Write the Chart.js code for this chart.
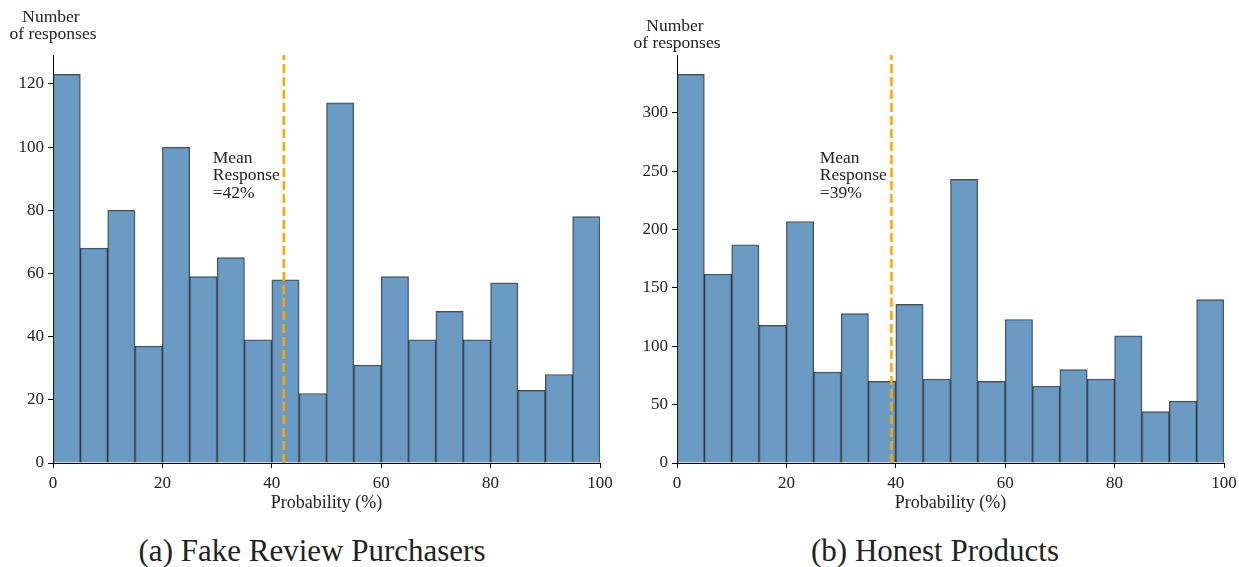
<!DOCTYPE html>
<html>
<head>
<meta charset="utf-8">
<script src="https://cdn.jsdelivr.net/npm/chart.js@4.4.0/dist/chart.umd.min.js"></script>
<style>
  body { margin: 0; background: #fff; width: 1239px; height: 567px; overflow: hidden; position: relative; }
  .box { position: absolute; top: 0; height: 530px; }
  .caption { position: absolute; top: 533px; font-family: "Liberation Serif", serif; font-size: 31px; color: #222; transform: translateX(-50%); white-space: nowrap; }
</style>
</head>
<body>
<div class="box" style="left:0;width:620px"><canvas id="fakeChart"></canvas></div>
<div class="box" style="left:620px;width:640px"><canvas id="honestChart"></canvas></div>
<div class="caption" style="left:312px">(a) Fake Review Purchasers</div>
<div class="caption" style="left:935px">(b) Honest Products</div>
<script>
const binCenters = [2.5, 7.5, 12.5, 17.5, 22.5, 27.5, 32.5, 37.5, 42.5, 47.5,
  52.5, 57.5, 62.5, 67.5, 72.5, 77.5, 82.5, 87.5, 92.5, 97.5];
const fakeCounts = [123, 68, 80, 37, 100, 59, 65, 39, 58, 22, 114, 31, 59, 39, 48, 39, 57, 23, 28, 78];
const honestCounts = [333, 162, 187, 118, 207, 78, 128, 70, 136, 72, 243, 70, 123, 66, 80, 72, 109, 44, 53, 140];
const fakeMean = 42.2;
const honestMean = 39.2;
const fakeNote = ["Mean", "Response", "=42%"];
const honestNote = ["Mean", "Response", "=39%"];
const xTicks = [0, 20, 40, 60, 80, 100];
const fakeYTicks = [0, 20, 40, 60, 80, 100, 120];
const honestYTicks = [0, 50, 100, 150, 200, 250, 300];

const serif = '"Liberation Serif", serif';

const textPlugin = {
  id: "annot",
  afterDraw(chart, args, opts) {
    const { ctx, chartArea, scales } = chart;
    ctx.save();
    ctx.fillStyle = "#222";
    ctx.font = "17.5px " + serif;
    ctx.textAlign = "center";
    ctx.textBaseline = "middle";
    ctx.fillText("Number", chartArea.left - 2, opts.titleY);
    ctx.fillText("of responses", chartArea.left, opts.titleY + 17);
    ctx.font = "18px " + serif;
    ctx.fillText("Probability (%)", (chartArea.left + chartArea.right) / 2, 503);
    ctx.font = "17.5px " + serif;
    ctx.textAlign = "left";
    const x = scales.x.getPixelForValue(opts.noteX);
    opts.note.forEach((t, i) => ctx.fillText(t, x, 158 + i * 17.5));
    ctx.restore();
  }
};

function renderHist(id, counts, mean, yMax, yTicks, yWidth, padRight, note, noteX, titleY) {
  const bars = binCenters.map((x, i) => ({ x, y: counts[i] }));
  const axisGrid = { display: true, drawOnChartArea: false, drawTicks: true, tickLength: 5, color: "#000" };
  return new Chart(document.getElementById(id), {
    type: "bar",
    data: {
      datasets: [
        {
          type: "line",
          data: [{ x: mean, y: 0 }, { x: mean, y: yMax }],
          borderColor: "#FFA500",
          borderWidth: 2.5,
          borderDash: [9, 4],
          pointRadius: 0,
          order: 0
        },
        {
          data: bars,
          backgroundColor: "rgba(70,130,180,0.8)",
          borderColor: "rgba(0,0,0,0.7)",
          borderWidth: 1,
          borderSkipped: "bottom",
          barPercentage: 1,
          categoryPercentage: 1,
          order: 1
        }
      ]
    },
    options: {
      responsive: true,
      maintainAspectRatio: false,
      animation: false,
      layout: { padding: { top: 55, right: padRight, bottom: 0, left: 0 } },
      plugins: {
        legend: { display: false },
        tooltip: { enabled: false },
        annot: { note, noteX, titleY }
      },
      scales: {
        x: {
          type: "linear",
          min: 0,
          max: 100,
          offset: false,
          grid: { ...axisGrid, offset: false },
          border: { display: true, color: "#000", width: 1 },
          ticks: { padding: 5, color: "#222", font: { family: serif, size: 17 } },
          afterBuildTicks(scale) { scale.ticks = xTicks.map(v => ({ value: v })); },
          afterFit(scale) { scale.height = 67; }
        },
        y: {
          min: 0,
          max: yMax,
          grid: axisGrid,
          border: { display: true, color: "#000", width: 1 },
          ticks: { padding: 4, color: "#222", font: { family: serif, size: 17 } },
          afterBuildTicks(scale) { scale.ticks = yTicks.map(v => ({ value: v })); },
          afterFit(scale) { scale.width = yWidth; }
        }
      }
    },
    plugins: [textPlugin]
  });
}

renderHist("fakeChart", fakeCounts, fakeMean, 129.15, fakeYTicks, 53, 20, fakeNote, 29.2, 17);
renderHist("honestChart", honestCounts, honestMean, 349.65, honestYTicks, 57, 36, honestNote, 26.1, 26);
</script>
</body>
</html>
